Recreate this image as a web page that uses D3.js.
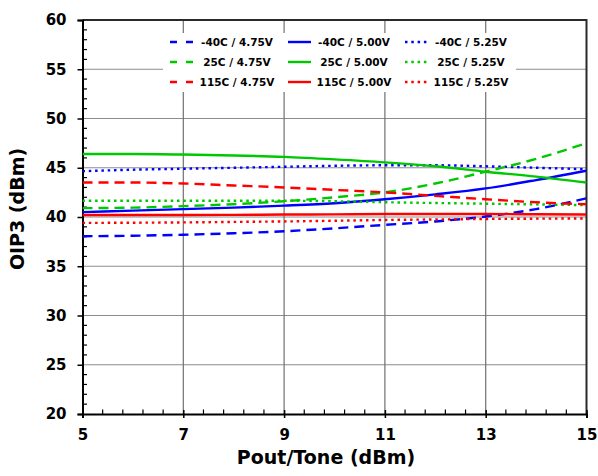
<!DOCTYPE html>
<html>
<head>
<meta charset="utf-8">
<script src="https://cdn.jsdelivr.net/npm/d3@7"></script>
<style>
  body { margin: 0; background: #fff; }
  svg text { font-family: "DejaVu Sans", Verdana, sans-serif; font-weight: bold; fill: #000; }
</style>
</head>
<body>
<svg id="chart" width="598" height="476"></svg>
<script>
// data
const pout = [5, 6, 7, 8, 9, 10, 11, 12, 13, 14, 15];
const xTicks = [5, 7, 9, 11, 13, 15];
const yTicks = [20, 25, 30, 35, 40, 45, 50, 55, 60];

const m40_475 = [38.05, 38.1, 38.2, 38.35, 38.55, 38.85, 39.2, 39.55, 40.05, 40.8, 41.9];
const m40_500 = [40.5, 40.65, 40.8, 40.95, 41.15, 41.4, 41.8, 42.3, 42.9, 43.75, 44.7];
const m40_525 = [44.65, 44.8, 44.9, 45.0, 45.1, 45.2, 45.25, 45.25, 45.15, 45.0, 44.85];
const t25_475 = [40.9, 40.95, 41.1, 41.3, 41.6, 42.0, 42.5, 43.4, 44.6, 45.9, 47.5];
const t25_500 = [46.4, 46.4, 46.35, 46.25, 46.1, 45.85, 45.55, 45.15, 44.6, 44.1, 43.5];
const t25_525 = [41.65, 41.65, 41.65, 41.65, 41.65, 41.6, 41.5, 41.42, 41.35, 41.28, 41.2];
const t115_475 = [43.5, 43.5, 43.4, 43.2, 43.0, 42.75, 42.5, 42.15, 41.8, 41.5, 41.3];
const t115_500 = [40.2, 40.2, 40.2, 40.22, 40.25, 40.27, 40.3, 40.3, 40.3, 40.28, 40.25];
const t115_525 = [39.4, 39.42, 39.45, 39.5, 39.55, 39.62, 39.7, 39.75, 39.8, 39.83, 39.85];

const temps = ["-40C", "25C", "115C"];
const volts = ["4.75V", "5.00V", "5.25V"];
const tempColor = {"-40C": "#0000ff", "25C": "#00c800", "115C": "#ff0000"};
const voltDash = {"4.75V": "10,6", "5.00V": null, "5.25V": "2.5,3.8"};

const series = [
  {t: "-40C", v: "4.75V", vals: m40_475}, {t: "-40C", v: "5.00V", vals: m40_500}, {t: "-40C", v: "5.25V", vals: m40_525},
  {t: "25C", v: "4.75V", vals: t25_475}, {t: "25C", v: "5.00V", vals: t25_500}, {t: "25C", v: "5.25V", vals: t25_525},
  {t: "115C", v: "4.75V", vals: t115_475}, {t: "115C", v: "5.00V", vals: t115_500}, {t: "115C", v: "5.25V", vals: t115_525}
];

const svg = d3.select('#chart');
const pLeft = 82.5, pRight = 586.5, pTop = 20, pBottom = 414;

const x = d3.scaleLinear().domain([5, 15]).range([pLeft, pRight]);
const y = d3.scaleLinear().domain([20, 60]).range([pBottom, pTop]);

// grid
const grid = svg.append('g').attr('class', 'grid');
grid.selectAll('.hg').data(yTicks.filter(d => d > 20 && d < 60))
  .join('line').attr('class', 'hg')
  .attr('x1', pLeft).attr('x2', pRight)
  .attr('y1', d => y(d)).attr('y2', d => y(d))
  .attr('stroke', '#8c8c8c').attr('stroke-width', 1.2);
grid.selectAll('.vg').data(xTicks.filter(d => d > 5 && d < 15))
  .join('line').attr('class', 'vg')
  .attr('y1', pTop).attr('y2', pBottom)
  .attr('x1', d => x(d)).attr('x2', d => x(d))
  .attr('stroke', '#707070').attr('stroke-width', 1.2);

// frame top / right
svg.append('path')
  .attr('d', `M${pLeft},${pTop} H${pRight} V${pBottom}`)
  .attr('fill', 'none').attr('stroke', '#2a2a2a').attr('stroke-width', 2);

// axes
const yAxis = d3.axisLeft(y).tickValues(yTicks).tickSize(5).tickPadding(11);
const gy = svg.append('g').attr('transform', `translate(${pLeft},0)`).call(yAxis);
gy.select('.domain').attr('stroke', '#000').attr('stroke-width', 2);
gy.selectAll('.tick line').attr('stroke', '#000').attr('stroke-width', 1.5);
gy.selectAll('.tick text').attr('font-size', 15).attr('font-family', '"DejaVu Sans", Verdana, sans-serif').attr('font-weight', 'bold');

const yMinor = d3.range(21, 60).filter(d => d % 5 !== 0);
svg.append('g').selectAll('line').data(yMinor).join('line')
  .attr('x1', pLeft).attr('x2', pLeft + 4.5)
  .attr('y1', d => y(d)).attr('y2', d => y(d))
  .attr('stroke', '#000').attr('stroke-width', 1.2);

const xAxis = d3.axisBottom(x).tickValues(xTicks).tickSize(4).tickPadding(11);
const gx = svg.append('g').attr('transform', `translate(0,${pBottom})`).call(xAxis);
gx.select('.domain').attr('stroke', '#000').attr('stroke-width', 2);
gx.selectAll('.tick line').attr('stroke', '#000').attr('stroke-width', 1.5).attr('y1', -4);
gx.selectAll('.tick text').attr('font-size', 15).attr('font-family', '"DejaVu Sans", Verdana, sans-serif').attr('font-weight', 'bold');

const xMinor = d3.range(1, 25).filter(i => i % 5 !== 0).map(i => 5 + i * 0.4);
svg.append('g').selectAll('line').data(xMinor).join('line')
  .attr('y1', pBottom).attr('y2', pBottom - 4.5)
  .attr('x1', d => x(d)).attr('x2', d => x(d))
  .attr('stroke', '#000').attr('stroke-width', 1.2);

// lines
svg.append('clipPath').attr('id', 'clip')
  .append('rect').attr('x', pLeft).attr('y', pTop).attr('width', pRight - pLeft).attr('height', pBottom - pTop);

const line = d3.line()
  .x((d, i) => x(pout[i]))
  .y(d => y(d))
  .curve(d3.curveMonotoneX);

svg.append('g').attr('clip-path', 'url(#clip)')
  .selectAll('.series').data(series)
  .join('path').attr('class', 'series')
  .attr('d', d => line(d.vals))
  .attr('fill', 'none')
  .attr('stroke', d => tempColor[d.t])
  .attr('stroke-width', 2.4)
  .attr('stroke-dasharray', d => voltDash[d.v]);

// legend
const lg = svg.append('g').attr('class', 'legend');
lg.append('rect').attr('x', 163).attr('y', 33).attr('width', 353).attr('height', 59).attr('fill', '#fff');
const colX = [170, 288, 405];
const textCx = [237, 354, 471];
const rowY = [42, 62, 82];
const legItems = series.map(d => ({...d, c: volts.indexOf(d.v), r: temps.indexOf(d.t)}));
const li = lg.selectAll('.li').data(legItems).join('g').attr('class', 'li');
li.append('line')
  .attr('x1', d => colX[d.c]).attr('x2', d => colX[d.c] + 23)
  .attr('y1', d => rowY[d.r]).attr('y2', d => rowY[d.r])
  .attr('stroke', d => tempColor[d.t]).attr('stroke-width', 2.4)
  .attr('stroke-dasharray', d => d.v === '4.75V' ? '7,9' : voltDash[d.v]);
li.append('text')
  .attr('x', d => textCx[d.c]).attr('y', d => rowY[d.r] + 4)
  .attr('text-anchor', 'middle').attr('font-size', 10.5)
  .text(d => `${d.t} / ${d.v}`);

// axis titles
svg.append('text').attr('x', 326).attr('y', 464).attr('text-anchor', 'middle')
  .attr('font-size', 19).text('Pout/Tone (dBm)');
svg.append('text').attr('transform', 'translate(24,209) rotate(-90)').attr('text-anchor', 'middle')
  .attr('font-size', 19).text('OIP3 (dBm)');
</script>
</body>
</html>
